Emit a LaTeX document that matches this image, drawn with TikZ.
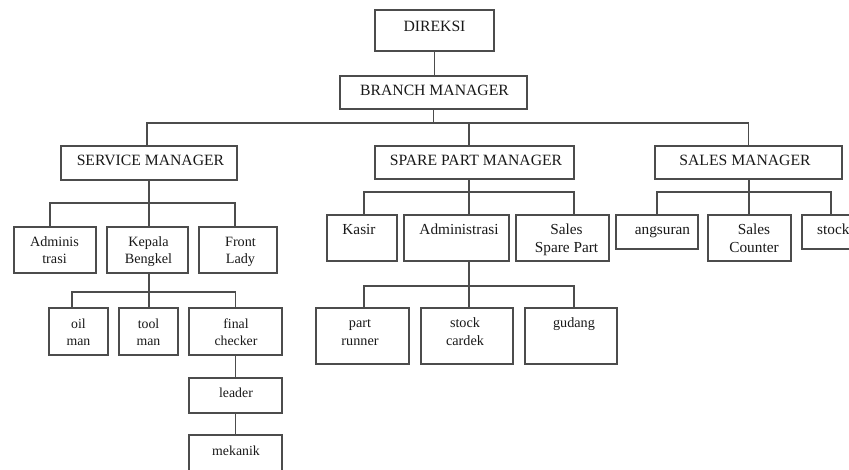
\documentclass[tikz,border=0pt]{standalone}
\usepackage{fontspec}
\setmainfont{Liberation Serif}
\begin{document}
\begin{tikzpicture}[x=1pt,y=-1pt,
  box/.style={draw=black!70, line width=1.2pt, inner sep=0pt, fill=white},
  wire/.style={draw=black!70, line width=1.2pt},
  capt/.style={anchor=base, inner sep=0pt, text=black!90, font=\fontsize{15.7}{18}\selectfont},
  lblA/.style={anchor=base, inner sep=0pt, align=center, text=black!90, font=\fontsize{15.3}{18}\selectfont},
  lblB/.style={anchor=base, inner sep=0pt, align=center, text=black!90, font=\fontsize{14.2}{17.5}\selectfont},
  lblC/.style={anchor=base, inner sep=0pt, align=center, text=black!90, font=\fontsize{13.8}{17}\selectfont}]
\useasboundingbox (0,0) rectangle (849,470);
\clip (0,0) rectangle (849,470);
\newcommand\obox[5]{\node[box, minimum width={(#4-#2)*1pt}, minimum height={(#5-#3)*1pt}] (#1) at ({(#2+#4)/2},{(#3+#5)/2}) {};}
% boxes
\obox{dir}{375}{10}{494}{51}
\obox{bm}{340}{76}{527}{109}
\obox{sm}{61}{146}{237}{180}
\obox{spm}{375}{146}{574}{179}
\obox{slm}{655}{146}{842}{179}
\obox{admA}{14}{227}{96}{273}
\obox{kb}{107}{227}{188}{273}
\obox{fl}{199}{227}{277}{273}
\obox{oil}{49}{308}{108}{355}
\obox{tool}{119}{308}{178}{355}
\obox{fc}{189}{308}{282}{355}
\obox{lead}{189}{378}{282}{413}
\obox{mek}{189}{435}{282}{490}
\obox{kas}{327}{215}{397}{261}
\obox{admB}{404}{215}{509}{261}
\obox{ssp}{516}{215}{609}{261}
\obox{pr}{316}{308}{409}{364}
\obox{sck}{421}{308}{513}{364}
\obox{gud}{525}{308}{617}{364}
\obox{ang}{616}{215}{698}{249}
\obox{sco}{708}{215}{791}{261}
\obox{stk}{802}{215}{860}{249}
% junctions
\coordinate (b0) at (469,123);
\coordinate (b1) at (149,203);
\coordinate (b2) at (149,292);
\coordinate (b3) at (469,192);
\coordinate (b4) at (469,286);
\coordinate (b5) at (749,192);
% connectors
\draw[wire] (dir.south) -- (dir.south |- bm.north);
\draw[wire] (bm.south) -- (bm.south |- b0);
\draw[wire] ([xshift=-2pt]sm.north) |- (b0) -| (slm.north);
\draw[wire] (spm.north -| b0) -- (b0);
\draw[wire] (sm.south) -- (b1);
\draw[wire] ([xshift=-5pt]admA.north) |- (b1) -| ([xshift=-3pt]fl.north);
\draw[wire] (kb.north -| b1) -- (b1);
\draw[wire] (kb.south -| b2) -- (b2);
\draw[wire] ([xshift=-6.5pt]oil.north) |- (b2) -| (fc.north);
\draw[wire] (tool.north -| b2) -- (b2);
\draw[wire] (fc.south) -- (lead.north);
\draw[wire] (lead.south) -- (mek.north);
\draw[wire] (spm.south -| b3) -- (b3);
\draw[wire] ([xshift=2pt]kas.north) |- (b3) -| ([xshift=11.5pt]ssp.north);
\draw[wire] (admB.north -| b3) -- (b3);
\draw[wire] (admB.south -| b4) -- (b4);
\draw[wire] ([xshift=1.5pt]pr.north) |- (b4) -| ([xshift=3pt]gud.north);
\draw[wire] (sck.north -| b4) -- (b4);
\draw[wire] (slm.south -| b5) -- (b5);
\draw[wire] (ang.north) |- (b5) -| (stk.north);
\draw[wire] (sco.north -| b5) -- (b5);
% labels (base = baseline of last line)
\node[capt] (tdir) at (434.5,32) {DIREKSI};
\node[capt] (tbm) at (434.5,96) {BRANCH MANAGER};
\node[capt] (tsm) at (150.5,166) {SERVICE MANAGER};
\node[capt] (tspm) at (476,166) {SPARE PART MANAGER};
\node[capt] (tslm) at (745,166) {SALES MANAGER};
\node[lblB] (tadmA) at (54.5,264) {Adminis\\trasi};
\node[lblB] (tkb) at (148.5,264) {Kepala\\Bengkel};
\node[lblB] (tfl) at (240.5,264) {Front\\Lady};
\node[lblC] (toil) at (78.5,345) {oil\\man};
\node[lblC] (ttool) at (148.5,345) {tool\\man};
\node[lblC] (tfc) at (236,345) {final\\checker};
\node[lblC] (tlead) at (236,397) {leader};
\node[lblC] (tmek) at (236,455) {mekanik};
\node[lblA] (tkas) at (359,235) {Kasir};
\node[lblA] (tadmB) at (459,235) {Administrasi};
\node[lblA] (tssp) at (566.5,253) {Sales\\Spare Part};
\node[lblB] (tpr) at (360,345) {part\\runner};
\node[lblB] (tsck) at (465,345) {stock\\cardek};
\node[lblB] (tgud) at (574,328) {gudang};
\node[lblA] (tang) at (662.5,235) {angsuran};
\node[lblA] (tsco) at (754,253) {Sales\\Counter};
\node[lblA, anchor=base west] (tstk) at (817,235) {stock};
\end{tikzpicture}
\end{document}
